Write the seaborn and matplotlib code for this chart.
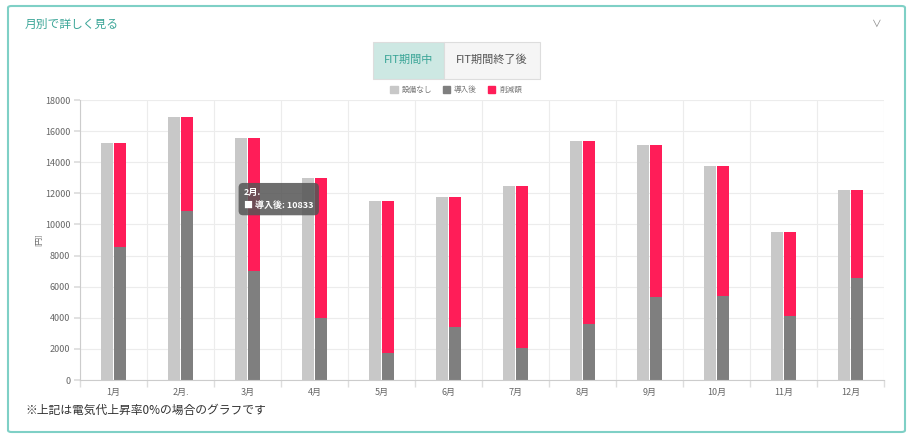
import pandas as pd
import matplotlib.pyplot as plt
import matplotlib.patches as mpatches
import seaborn as sns

# chart values
months = ['1月', '2月.', '3月', '4月', '5月', '6月', '7月', '8月', '9月', '10月', '11月', '12月']
without_equipment = [15250, 16900, 15550, 12980, 11520, 11740, 12480, 15380, 15100, 13750, 9500, 12200]
after_install = [8580, 10833, 7000, 3970, 1720, 3400, 2060, 3580, 5340, 5400, 4140, 6580]
legend_labels = ['設備なし', '導入後', '削減額']
y_ticks = [0, 2000, 4000, 6000, 8000, 10000, 12000, 14000, 16000, 18000]

c_gray = '#c8c8c8'
c_dark = '#7f7f7f'
c_red = '#ff1d58'
c_teal = '#3aa597'

sns.set_theme(style='white')
plt.rcParams['font.family'] = ['Noto Sans CJK JP', 'DejaVu Sans']

fig = plt.figure(figsize=(9.12, 4.41), dpi=100)
ax = fig.add_axes([80 / 912, 1 - 380 / 441, 804 / 912, 280 / 441])

# tall bars: gray (設備なし) and red (full height, later covered by 導入後)
df_top = pd.DataFrame({
    'month': months * 2,
    'series': ['a'] * 12 + ['b'] * 12,
    'value': without_equipment + without_equipment,
})
sns.barplot(data=df_top, x='month', y='value', hue='series', order=months, hue_order=['a', 'b'],
            palette={'a': c_gray, 'b': c_red}, width=0.4, gap=0.12, saturation=1,
            errorbar=None, legend=False, linewidth=0, ax=ax)

# dark bars for 導入後 stacked at the bottom of the red bars
df_low = pd.DataFrame({
    'month': months * 2,
    'series': ['a'] * 12 + ['b'] * 12,
    'value': [0] * 12 + after_install,
})
sns.barplot(data=df_low, x='month', y='value', hue='series', order=months, hue_order=['a', 'b'],
            palette={'a': c_gray, 'b': c_dark}, width=0.4, gap=0.12, saturation=1,
            errorbar=None, legend=False, linewidth=0, ax=ax)

ax.set_xlim(-0.5, 11.5)
ax.set_ylim(0, 18000)
ax.set_yticks(y_ticks)
ax.set_yticklabels([str(v) for v in y_ticks])
ax.set_xticks(range(12))
ax.set_xticklabels(months)
ax.set_xticks([i - 0.5 for i in range(13)], minor=True)
ax.set_xlabel('')
ax.set_ylabel('[円]', fontsize=5.5, color='#666', labelpad=1)

ax.grid(True, axis='y', color='#ececec', linewidth=0.8)
ax.grid(True, axis='x', which='minor', color='#ececec', linewidth=0.8)
ax.grid(False, axis='x', which='major')
ax.set_axisbelow(True)
for side in ['top', 'right']:
    ax.spines[side].set_visible(False)
for side in ['left', 'bottom']:
    ax.spines[side].set_color('#cccccc')
    ax.spines[side].set_linewidth(0.8)
ax.tick_params(axis='y', length=4, color='#dddddd', labelsize=6.5, labelcolor='#666', pad=3, left=True)
ax.tick_params(axis='x', which='major', length=0, labelsize=6.5, labelcolor='#666', pad=6)
ax.tick_params(axis='x', which='minor', length=5, color='#dddddd', bottom=True)

# tooltip
ax.annotate('2月.\n■ 導入後: 10833', xy=(0.204, 0.646), xycoords='axes fraction',
            fontsize=6.5, color='white', fontweight='bold', va='center', ha='left', linespacing=1.5,
            bbox=dict(boxstyle='round,pad=0.6,rounding_size=0.5', fc='#555555', ec='none', alpha=0.85))

# legend
handles = [mpatches.Patch(color=c) for c in (c_gray, c_dark, c_red)]
fig.legend(handles, legend_labels, loc='center', bbox_to_anchor=(456 / 912, 1 - 90 / 441), ncol=3,
           frameon=False, fontsize=5.5, handlelength=1.0, handleheight=1.0, handletextpad=0.5,
           columnspacing=1.4, labelcolor='#777')

# card frame
fig.patches.append(mpatches.FancyBboxPatch((8 / 912, 1 - 432 / 441), 897 / 912, 426 / 441,
                                           boxstyle='round,pad=0,rounding_size=0.004',
                                           transform=fig.transFigure, fc='none', ec='#7fd0c6', lw=1.5))
fig.text(25 / 912, 1 - 24 / 441, '月別で詳しく見る', fontsize=8.5, color=c_teal, va='center', ha='left')
fig.text(877 / 912, 1 - 24 / 441, '∨', fontsize=7, color='#888', va='center', ha='center')

# period buttons
fig.patches.append(mpatches.Rectangle((373 / 912, 1 - 79 / 441), 71 / 912, 37 / 441,
                                      transform=fig.transFigure, fc='#cde8e3', ec='#dddddd', lw=0.8))
fig.patches.append(mpatches.Rectangle((444 / 912, 1 - 79 / 441), 96 / 912, 37 / 441,
                                      transform=fig.transFigure, fc='#f5f5f5', ec='#dddddd', lw=0.8))
fig.text(408.5 / 912, 1 - 60 / 441, 'FIT期間中', fontsize=8, color=c_teal, va='center', ha='center')
fig.text(492 / 912, 1 - 60 / 441, 'FIT期間終了後', fontsize=8, color='#555', va='center', ha='center')

fig.text(25 / 912, 1 - 410 / 441, '※上記は電気代上昇率0%の場合のグラフです', fontsize=8.5, color='#333',
         va='center', ha='left')

fig.savefig('out.png', dpi=100)
